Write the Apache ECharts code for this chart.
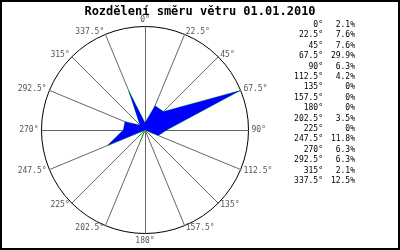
<!DOCTYPE html>
<html><head><meta charset="utf-8">
<script src="https://cdn.jsdelivr.net/npm/echarts@6/dist/echarts.min.js"></script>
<style>html,body{margin:0;padding:0;background:#fff}#c{width:400px;height:250px}</style>
</head><body><div id="c"></div>
<script>
var directions = ['0°','22.5°','45°','67.5°','90°','112.5°','135°','157.5°','180°','202.5°','225°','247.5°','270°','292.5°','315°','337.5°'];
var values = [2.1, 7.6, 7.6, 29.9, 6.3, 4.2, 0, 0, 0, 3.5, 0, 11.8, 6.3, 6.3, 2.1, 12.5];
var valueLabels = ['2.1%','7.6%','7.6%','29.9%','6.3%','4.2%','0%','0%','0%','3.5%','0%','11.8%','6.3%','6.3%','2.1%','12.5%'];
var titleText = 'Rozdělení směru větru 01.01.2010';
var rMax = 30;

// radar goes counter-clockwise; reorder so directions run clockwise from top
var order = [0];
for (var i = directions.length - 1; i >= 1; i--) order.push(i);
var indicators = order.map(function (k) { return { name: directions[k], max: rMax, min: 0 }; });
var radarValues = order.map(function (k) { return values[k]; });

var mono = 'DejaVu Sans Mono';
var graphics = [{
  type: 'rect', shape: { x: 1, y: 1, width: 398, height: 248 },
  style: { fill: 'none', stroke: '#000', lineWidth: 2 }, z: 100
}];
directions.forEach(function (d, i) {
  var y = 25 + i * 10.4;
  graphics.push({ type: 'text', x: 323, y: y, style: { text: d, font: '8px "' + mono + '"', fill: '#000', align: 'right', verticalAlign: 'middle' } });
  graphics.push({ type: 'text', x: 355, y: y, style: { text: valueLabels[i], font: '8px "' + mono + '"', fill: '#000', align: 'right', verticalAlign: 'middle' } });
});

var chart = echarts.init(document.getElementById('c'), null, { renderer: 'canvas' });
chart.setOption({
  animation: false,
  backgroundColor: '#fff',
  title: {
    text: titleText, left: 'center', top: 1,
    textStyle: { fontFamily: mono, fontWeight: 'bold', fontSize: 12, color: '#000' }
  },
  radar: {
    center: [145, 130], radius: 103.5, startAngle: 90, shape: 'circle',
    splitNumber: 1,
    indicator: indicators,
    axisName: { color: '#555', fontFamily: mono, fontSize: 8 },
    nameGap: 3,
    axisLine: { lineStyle: { color: '#666', width: 1 } },
    splitLine: { lineStyle: { color: '#000', width: 1 } },
    splitArea: { show: false },
    axisTick: { show: false },
    axisLabel: { show: false }
  },
  series: [{
    type: 'radar', symbol: 'none', z: 5,
    lineStyle: { color: '#00dd00', width: 0.6 },
    areaStyle: { color: '#0000ff', opacity: 1 },
    data: [{ value: radarValues }]
  }],
  graphic: graphics
});
</script></body></html>
